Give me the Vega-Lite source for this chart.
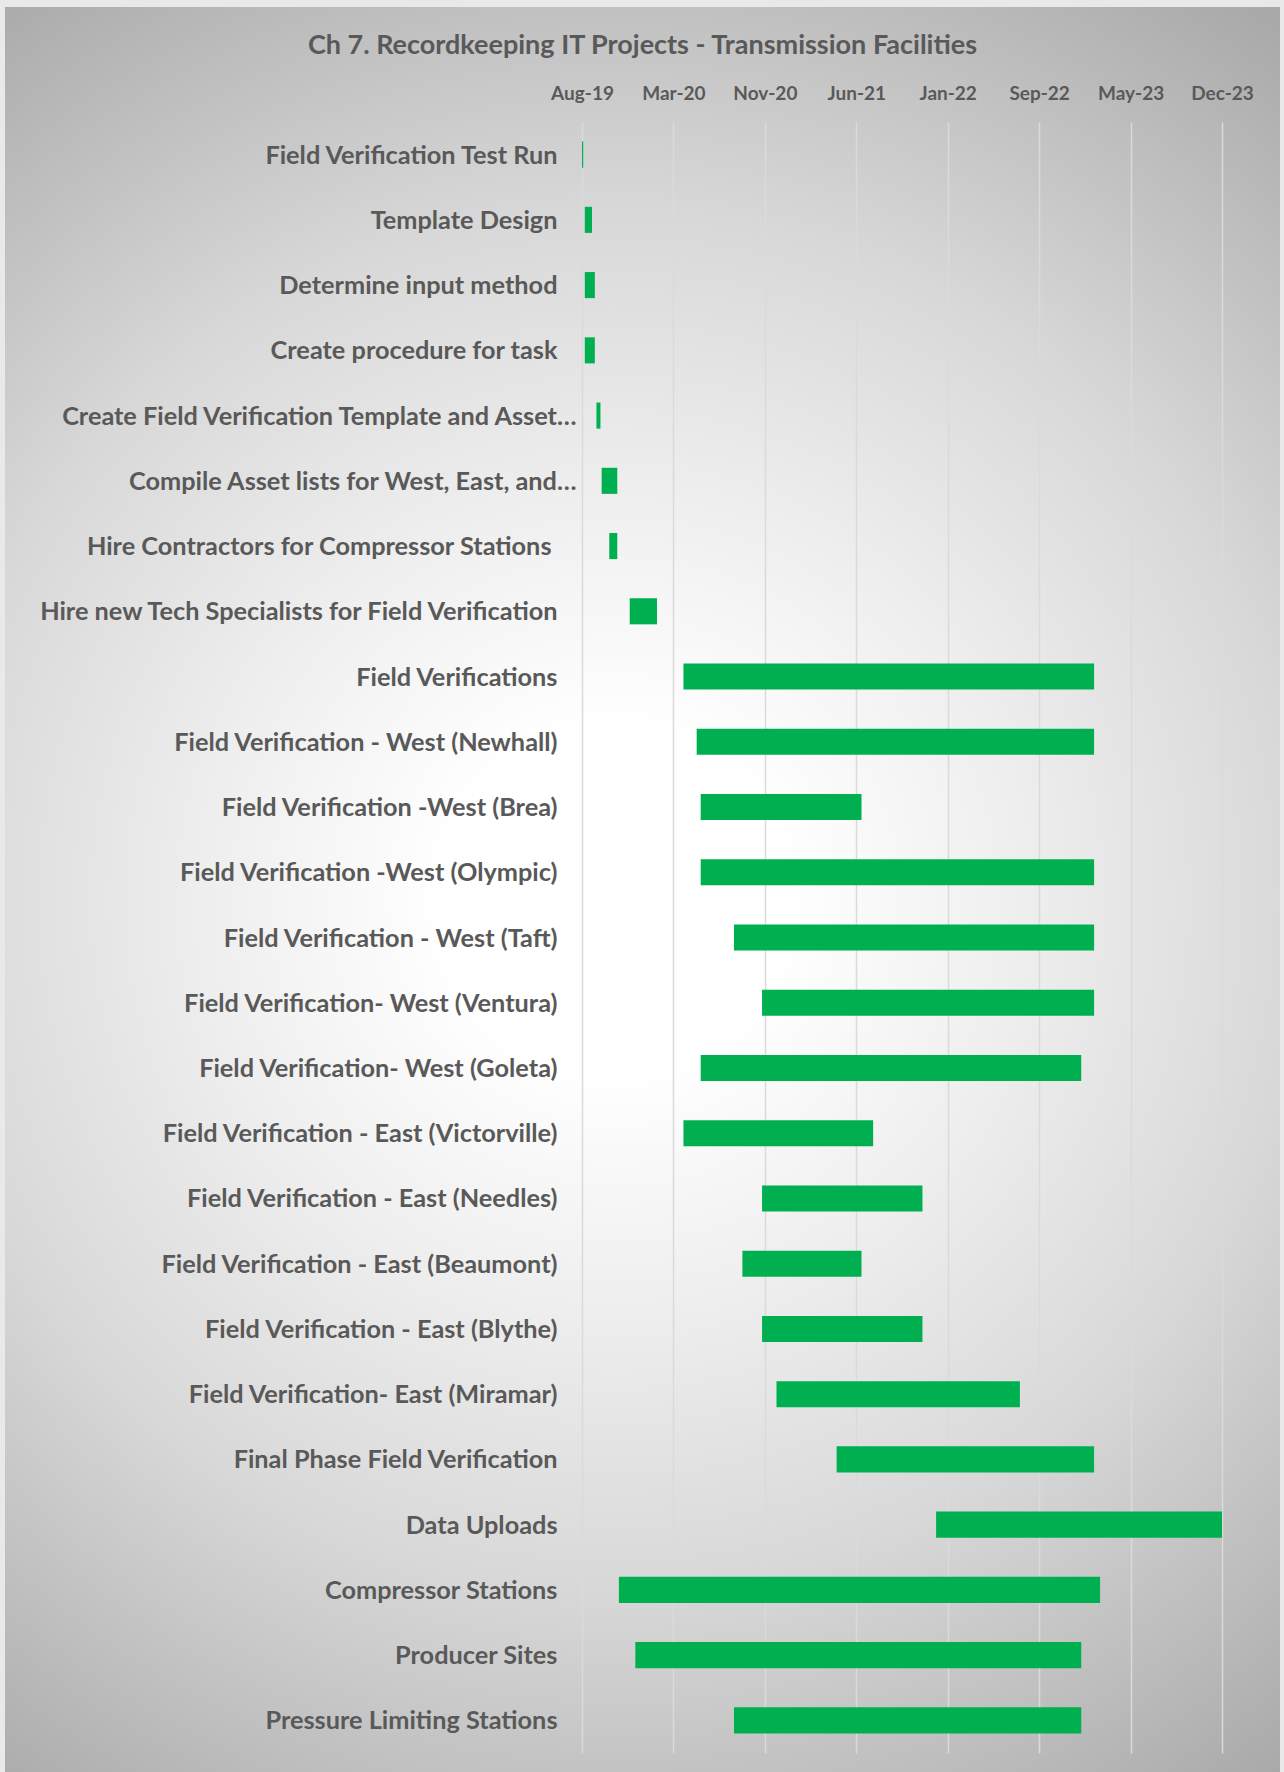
{
  "$schema": "https://vega.github.io/schema/vega-lite/v6.json",
  "width": 1275,
  "height": 1765,
  "autosize": "none",
  "padding": {"left": 5, "top": 7, "right": 4, "bottom": 0},
  "background": "#e9e9e9",
  "view": {
    "stroke": null,
    "fill": {
      "gradient": "radial",
      "x1": 0.484, "y1": 0.506, "x2": 0.484, "y2": 0.506,
      "r1": 0, "r2": 0.65,
      "stops": [
        {"offset": 0, "color": "#ffffff"},
        {"offset": 0.15, "color": "#ffffff"},
        {"offset": 0.36, "color": "#eeeeee"},
        {"offset": 0.6, "color": "#d8d8d8"},
        {"offset": 0.95, "color": "#aaaaaa"},
        {"offset": 1, "color": "#a6a6a6"}
      ]
    }
  },
  "title": {
    "text": "Ch 7. Recordkeeping IT Projects - Transmission Facilities",
    "anchor": "middle",
    "frame": "group",
    "orient": "top",
    "offset": -66,
    "baseline": "middle",
    "font": "Lato",
    "fontSize": 27,
    "fontWeight": "bold",
    "color": "#595959"
  },
  "data": {
    "values": [
      {"task": "Field Verification Test Run", "start": "2019-08-03", "end": "2019-08-06"},
      {"task": "Template Design", "start": "2019-08-10", "end": "2019-08-28"},
      {"task": "Determine input method", "start": "2019-08-10", "end": "2019-09-04"},
      {"task": "Create procedure for task", "start": "2019-08-10", "end": "2019-09-04"},
      {"task": "Create Field Verification Template and Asset…", "start": "2019-09-08", "end": "2019-09-18"},
      {"task": "Compile Asset lists for West, East, and…", "start": "2019-09-21", "end": "2019-10-30"},
      {"task": "Hire Contractors for Compressor Stations ", "start": "2019-10-10", "end": "2019-10-30"},
      {"task": "Hire new Tech Specialists for Field Verification", "start": "2019-11-30", "end": "2020-02-06"},
      {"task": "Field Verifications", "start": "2020-04-12", "end": "2023-01-31"},
      {"task": "Field Verification - West (Newhall)", "start": "2020-05-15", "end": "2023-01-31"},
      {"task": "Field Verification -West (Brea)", "start": "2020-05-25", "end": "2021-06-30"},
      {"task": "Field Verification -West (Olympic)", "start": "2020-05-25", "end": "2023-01-31"},
      {"task": "Field Verification - West (Taft)", "start": "2020-08-16", "end": "2023-01-31"},
      {"task": "Field Verification- West (Ventura)", "start": "2020-10-25", "end": "2023-01-31"},
      {"task": "Field Verification- West (Goleta)", "start": "2020-05-25", "end": "2022-12-30"},
      {"task": "Field Verification - East (Victorville)", "start": "2020-04-12", "end": "2021-07-29"},
      {"task": "Field Verification - East (Needles)", "start": "2020-10-25", "end": "2021-11-29"},
      {"task": "Field Verification - East (Beaumont)", "start": "2020-09-06", "end": "2021-06-30"},
      {"task": "Field Verification - East (Blythe)", "start": "2020-10-25", "end": "2021-11-29"},
      {"task": "Field Verification- East (Miramar)", "start": "2020-11-30", "end": "2022-07-30"},
      {"task": "Final Phase Field Verification", "start": "2021-04-29", "end": "2023-01-31"},
      {"task": "Data Uploads", "start": "2022-01-02", "end": "2023-12-16"},
      {"task": "Compressor Stations", "start": "2019-11-03", "end": "2023-02-15"},
      {"task": "Producer Sites", "start": "2019-12-14", "end": "2022-12-30"},
      {"task": "Pressure Limiting Stations", "start": "2020-08-16", "end": "2022-12-30"}
    ]
  },
  "mark": {"type": "bar", "color": "#00b050"},
  "encoding": {
    "y": {
      "field": "task",
      "type": "nominal",
      "sort": null,
      "scale": {"range": [115, 1746], "paddingInner": 0.6, "paddingOuter": 0.3},
      "axis": {
        "title": null,
        "orient": "left",
        "offset": -552,
        "domain": false,
        "ticks": false,
        "labelOffset": 1,
        "labelPadding": {
          "condition": [
            {"test": "indexof(datum.label, '…') >= 0", "value": -19},
            {"test": "indexof(datum.label, 'Hire Contractors') == 0", "value": 6}
          ],
          "value": 0
        },
        "labelFont": "Lato",
        "labelFontSize": 25.3,
        "labelFontWeight": "bold",
        "labelColor": "#595959",
        "labelLimit": 0
      }
    },
    "x": {
      "field": "start",
      "type": "temporal",
      "scale": {
        "type": "utc",
        "domain": [
          {"year": 2019, "month": 8, "date": 3, "utc": true},
          {"year": 2023, "month": 12, "date": 16, "utc": true}
        ],
        "range": [577, 1217]
      },
      "axis": {
        "orient": "top",
        "title": null,
        "values": [
          {"year": 2019, "month": 8, "date": 3, "utc": true},
          {"year": 2020, "month": 3, "date": 18, "utc": true},
          {"year": 2020, "month": 11, "date": 1, "utc": true},
          {"year": 2021, "month": 6, "date": 17, "utc": true},
          {"year": 2022, "month": 1, "date": 31, "utc": true},
          {"year": 2022, "month": 9, "date": 16, "utc": true},
          {"year": 2023, "month": 5, "date": 2, "utc": true},
          {"year": 2023, "month": 12, "date": 16, "utc": true}
        ],
        "format": "%b-%y",
        "offset": -96,
        "domain": false,
        "ticks": false,
        "labelPadding": 0,
        "labelFont": "Lato",
        "labelFontSize": 19,
        "labelFontWeight": "bold",
        "labelColor": "#595959",
        "labelOverlap": false,
        "labelFlush": false,
        "gridColor": "#dadada",
        "gridWidth": 1.5
      }
    },
    "x2": {"field": "end"}
  }
}
